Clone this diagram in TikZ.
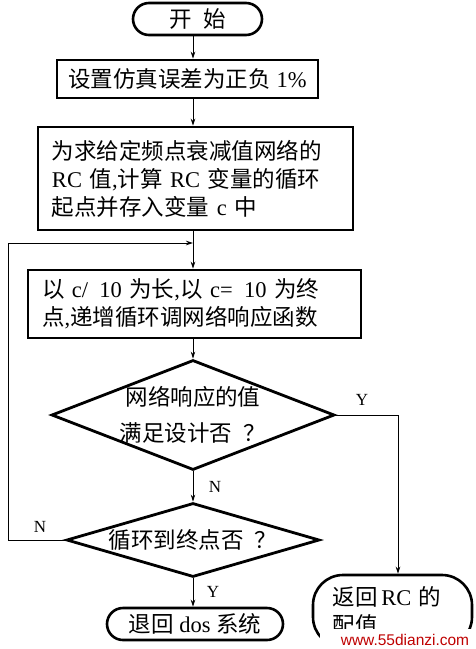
\documentclass[tikz,border=0pt]{standalone}
\usepackage{fontspec}
\setmainfont{Liberation Serif}
\newfontfamily\cjk{Noto Sans CJK SC}
\newfontfamily\wmfont{Liberation Sans}
\usetikzlibrary{shapes.geometric,arrows.meta}
\newcommand\zh[1]{{\cjk #1}}
\newcommand\fs{\fontsize{22.5}{28}\selectfont}
\begin{document}
\begin{tikzpicture}[x=1pt,y=-1pt,
  box/.style={draw,line width=2.6pt,rectangle,inner sep=0pt,font=\fs},
  term/.style={draw,line width=2.6pt,rectangle,rounded corners=16pt,inner sep=0pt,font=\fs},
  dia/.style={draw,line width=2.8pt,diamond,inner sep=0pt,font=\fs,align=center},
  arr/.style={line width=0.9pt,-{Stealth[length=7pt,width=4.5pt]}},
  ln/.style={line width=0.9pt},
  lab/.style={font=\fontsize{17}{17}\selectfont,inner sep=0pt}]
\useasboundingbox (0,0) rectangle (475,649);
\coordinate (spine) at (193,0);
\coordinate (lx) at (8,0);

\node[term,minimum width=129pt,minimum height=32pt] (start) at (197.5,19) {\zh{开}\hspace{12pt}\zh{始}};
\node[box,minimum width=261pt,minimum height=38pt] (set) at (187.5,79) {\zh{设置仿真误差为正负} 1\%};
\node[box,minimum width=315pt,minimum height=103pt,text width=287pt,align=left] (rc) at (195.5,178.5)
  {\zh{为求给定频点衰减值网络的}\\RC \zh{值},\zh{计算} RC \zh{变量的循环}\\\zh{起点并存入变量} c \zh{中}};
\node[box,minimum width=333pt,minimum height=68pt,text width=305pt,align=left] (loop) at (194.5,304)
  {\zh{以} c/\enspace10 \zh{为长},\zh{以} c=\enspace10 \zh{为终}\\\zh{点},\zh{递增循环调网络响应函数}};
\node[dia,aspect=2.57,inner sep=-12pt,minimum width=283pt,minimum height=110pt,font=\fontsize{22.5}{36}\selectfont] (d1) at (193,415)
  {\zh{网络响应的值}\\\zh{满足设计否}\enspace\zh{？}};
\node[dia,aspect=3.42,minimum width=253pt,minimum height=74pt] (d2) at (193,540)
  {\zh{循环到终点否}\enspace\zh{？}};
\node[term,minimum width=176pt,minimum height=32pt] (end) at (195,624) {\zh{退回} dos \zh{系统}};
\node[term,rounded corners=30pt,minimum width=159pt,minimum height=72pt,text width=120pt,align=left] (ret) at (392.5,611)
  {\zh{返回}\,RC \zh{的}\\\zh{配值}};

\draw[arr] (start.south -| spine) -- (set.north -| spine);
\draw[arr] (set.south -| spine) -- (rc.north -| spine);
\coordinate (j) at (193,243);
\draw[ln] (rc.south -| spine) -- (j);
\draw[arr] (j) -- (loop.north -| spine);
\draw[arr] (loop.south -| spine) -- (d1.north);
\draw[arr] (d1.south) -- (d2.north);
\draw[arr] (d2.south) -- (end.north -| spine);
\draw[arr] (d2.west) -| (lx |- j) -- (j);
\draw[arr] (d1.east) -| ([xshift=5.5pt]ret.north);

\node[lab] (y1) at (362,400) {Y};
\node[lab] (n1) at (215,487) {N};
\node[lab] (n2) at (40,527) {N};
\node[lab] (y2) at (213,592) {Y};

\fill[white] (320,629) rectangle (475,649);
\node[font=\wmfont\fontsize{15.5}{15.5}\selectfont,text=red!75!black,inner sep=0pt] (wm) at (405,640) {www.55dianzi.com};
\end{tikzpicture}
\end{document}
